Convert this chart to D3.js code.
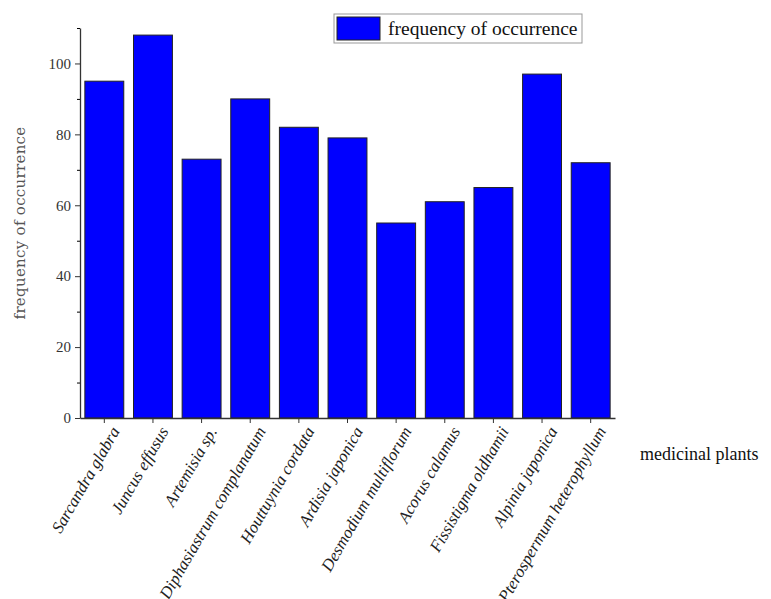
<!DOCTYPE html>
<html>
<head>
<meta charset="utf-8">
<script src="https://cdn.jsdelivr.net/npm/d3@7"></script>
<style>
  body { margin: 0; background: #fff; }
  svg { display: block; }
</style>
</head>
<body>
<div id="chart"></div>
<script>
// data
const plants = ['Sarcandra glabra', 'Juncus effusus', 'Artemisia sp.', 'Diphasiastrum complanatum',
    'Houttuynia cordata', 'Ardisia japonica', 'Desmodium multiflorum', 'Acorus calamus',
    'Fissistigma oldhamii', 'Alpinia japonica', 'Pterospermum heterophyllum'];
const frequency = [95, 108, 73, 90, 82, 79, 55, 61, 65, 97, 72];
const majorTicks = [0, 20, 40, 60, 80, 100];
const minorTicks = [10, 30, 50, 70, 90, 110];

const width = 771;
const height = 599;
const margin = { top: 28, right: 156, bottom: 181, left: 80 };

const svg = d3.select('#chart')
    .append('svg')
    .attr('width', width)
    .attr('height', height);

const x = d3.scaleBand()
    .domain(plants)
    .range([margin.left, width - margin.right])
    .paddingInner(0.2)
    .paddingOuter(0.1);

const y = d3.scaleLinear()
    .domain([0, 110])
    .range([height - margin.bottom, margin.top]);

// bars
svg.append('g')
    .selectAll('rect')
    .data(frequency)
    .join('rect')
    .attr('x', (d, i) => x(plants[i]))
    .attr('y', (d) => y(d))
    .attr('width', x.bandwidth())
    .attr('height', (d) => y(0) - y(d))
    .attr('fill', '#0000ff')
    .attr('stroke', '#222')
    .attr('stroke-width', 1);

// y axis, major ticks labelled, minor ticks between
const yAxis = svg.append('g')
    .attr('transform', `translate(${margin.left},0)`)
    .call(d3.axisLeft(y).tickValues(majorTicks).tickSize(5).tickSizeOuter(0));
svg.append('g')
    .attr('transform', `translate(${margin.left},0)`)
    .call(d3.axisLeft(y).tickValues(minorTicks).tickSize(3).tickFormat('').tickSizeOuter(0))
    .select('.domain').remove();
yAxis.select('.domain').attr('stroke', '#333').attr('stroke-width', 1.3);
yAxis.selectAll('.tick line').attr('stroke', '#333');
yAxis.selectAll('.tick text')
    .attr('font-family', 'Liberation Serif')
    .attr('font-size', 15)
    .attr('fill', '#333')
    .attr('x', -9);

// x axis
const xAxis = svg.append('g')
    .attr('transform', `translate(0,${y(0)})`)
    .call(d3.axisBottom(x).tickSize(5).tickSizeOuter(0));
xAxis.select('.domain').attr('stroke', '#333').attr('stroke-width', 1.3);
xAxis.selectAll('.tick line').attr('stroke', '#333');
xAxis.selectAll('.tick text')
    .attr('font-family', 'Liberation Serif')
    .attr('font-style', 'italic')
    .attr('font-size', 16.8)
    .attr('fill', '#222')
    .attr('text-anchor', 'end')
    .attr('dy', 0)
    .attr('y', 0)
    .attr('transform', 'translate(16,13) rotate(-60)');

// axis titles
svg.append('text')
    .attr('transform', `translate(25,${(y(0) + y(110)) / 2}) rotate(-90)`)
    .attr('text-anchor', 'middle')
    .attr('font-family', 'DejaVu Serif')
    .attr('font-size', 15)
    .attr('letter-spacing', 0.3)
    .attr('fill', '#555')
    .text('frequency of occurrence');

svg.append('text')
    .attr('x', 640)
    .attr('y', 460)
    .attr('font-family', 'Liberation Serif')
    .attr('font-size', 18)
    .attr('fill', '#111')
    .text('medicinal plants');

// legend
const legend = svg.append('g').attr('transform', 'translate(334,14)');
legend.append('rect')
    .attr('width', 248)
    .attr('height', 29)
    .attr('fill', '#fff')
    .attr('stroke', '#999');
legend.append('rect')
    .attr('x', 3)
    .attr('y', 3)
    .attr('width', 43)
    .attr('height', 23)
    .attr('fill', '#0000ff')
    .attr('stroke', '#222');
legend.append('text')
    .attr('x', 54)
    .attr('y', 21)
    .attr('font-family', 'Liberation Serif')
    .attr('font-size', 19.5)
    .attr('fill', '#111')
    .text('frequency of occurrence');
</script>
</body>
</html>
